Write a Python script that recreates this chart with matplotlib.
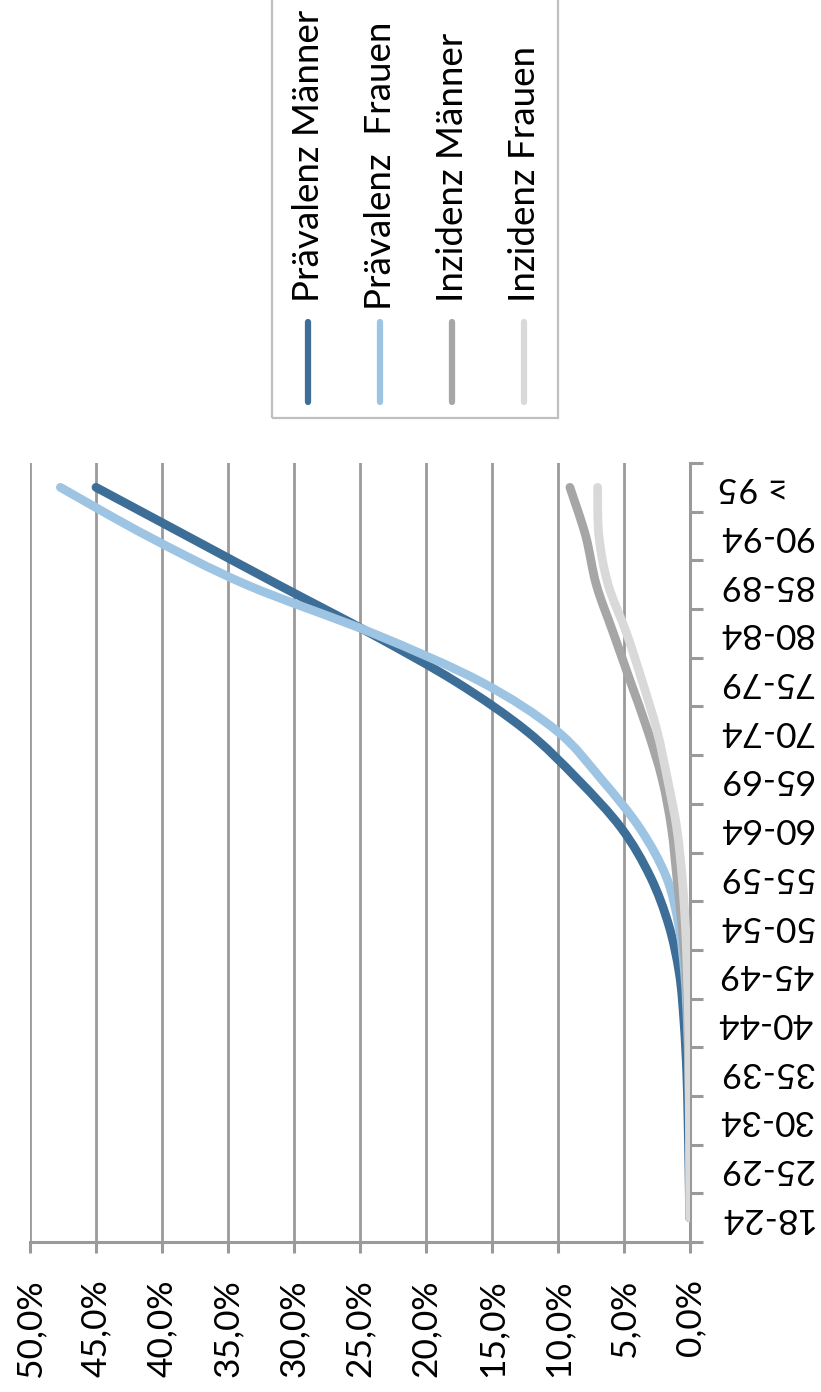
import matplotlib
matplotlib.use("Agg")
import matplotlib.pyplot as plt
from matplotlib.lines import Line2D
from matplotlib.patches import Rectangle, PathPatch
from matplotlib.path import Path
from matplotlib.ticker import FixedLocator

plt.rcParams['font.family'] = ['Lato', 'DejaVu Sans']

categories = ["18-24", "25-29", "30-34", "35-39", "40-44", "45-49", "50-54", "55-59",
              "60-64", "65-69", "70-74", "75-79", "80-84", "85-89", "90-94", "≥ 95"]
praevalenz_maenner = [0.03, 0.08, 0.15, 0.25, 0.45, 0.8, 1.6, 3.0, 5.2, 8.5, 12.4, 17.7, 24.2, 31.2, 38.1, 45.0]
praevalenz_frauen = [0.02, 0.03, 0.05, 0.1, 0.2, 0.4, 0.85, 1.8, 3.8, 6.7, 10.1, 15.8, 24.0, 33.6, 41.1, 47.7]
inzidenz_maenner = [0.01, 0.02, 0.04, 0.08, 0.15, 0.3, 0.6, 1.0, 1.4, 2.1, 3.2, 4.5, 5.8, 7.1, 7.9, 9.1]
inzidenz_frauen = [0.01, 0.02, 0.04, 0.06, 0.1, 0.2, 0.35, 0.6, 1.0, 1.7, 2.5, 3.6, 4.8, 6.2, 6.9, 7.0]
series_names = ["Prävalenz Männer", "Prävalenz  Frauen", "Inzidenz Männer", "Inzidenz Frauen"]
series_colors = ["#3d6e97", "#9dc4e2", "#a6a6a6", "#d9d9d9"]
value_ticks = [0, 5, 10, 15, 20, 25, 30, 35, 40, 45, 50]


def smooth_path(xv, yv):
    """Excel-style smoothed line: cubic Bezier through the data points."""
    pts = list(zip(xv, yv))
    n = len(pts)
    verts = [pts[0]]
    codes = [Path.MOVETO]
    for i in range(n - 1):
        p0 = pts[i - 1] if i > 0 else pts[i]
        p1 = pts[i]
        p2 = pts[i + 1]
        p3 = pts[i + 2] if i + 2 < n else pts[i + 1]
        c1 = (p1[0] + (p2[0] - p0[0]) / 6, p1[1] + (p2[1] - p0[1]) / 6)
        c2 = (p2[0] - (p3[0] - p1[0]) / 6, p2[1] - (p3[1] - p1[1]) / 6)
        verts += [c1, c2, p2]
        codes += [Path.CURVE4] * 3
    return Path(verts, codes)


W, H = 821, 1392
fig = plt.figure(figsize=(W / 100, H / 100), dpi=100)
ax = fig.add_axes([30 / W, 150 / H, 660 / W, 779 / H])

grid_c = "#9a9a9a"
pos = list(range(len(categories)))
for vals, col in zip([praevalenz_maenner, praevalenz_frauen, inzidenz_maenner, inzidenz_frauen], series_colors):
    ax.add_patch(PathPatch(smooth_path(vals, pos), fill=False, edgecolor=col, lw=6.3,
                           capstyle='round', joinstyle='round', zorder=3))

ax.set_xlim(50, 0)
ax.set_ylim(-0.5, len(categories) - 0.5)

ax.xaxis.set_major_locator(FixedLocator(value_ticks))
ax.set_xticklabels([f"{v:.1f}".replace('.', ',') + "%" for v in value_ticks], rotation=90, fontsize=25.5)
ax.grid(axis='x', color=grid_c, lw=2.0, zorder=1)
ax.tick_params(axis='x', direction='out', length=8, width=2.2, color=grid_c, pad=19)

ax.yaxis.tick_right()
ax.yaxis.set_major_locator(FixedLocator([i - 0.5 for i in range(len(categories) + 1)]))
ax.yaxis.set_minor_locator(FixedLocator(pos))
ax.set_yticklabels([], minor=False)
ax.set_yticklabels(categories, minor=True, rotation=180, fontsize=25.5)
ax.tick_params(axis='y', which='major', direction='out', length=9.5, width=2.2, color=grid_c)
ax.tick_params(axis='y', which='minor', length=0, pad=20)
for lab in ax.get_yticklabels(minor=True):
    lab.set_horizontalalignment('left')
    lab.set_verticalalignment('center')

for s in ['left', 'top']:
    ax.spines[s].set_visible(False)
for s in ['bottom', 'right']:
    ax.spines[s].set_color(grid_c)
    ax.spines[s].set_linewidth(2.2)

# legend (drawn rotated like the chart)
box = Rectangle((272 / W, (H - 418) / H), (558 - 272) / W, 430 / H, transform=fig.transFigure,
                fill=False, edgecolor="#bfbfbf", lw=1.6)
fig.add_artist(box)
xs = [308, 380, 452, 524]
text_starts = [302, 310, 302, 302]
for name, col, x, ys in zip(series_names, series_colors, xs, text_starts):
    fig.add_artist(Line2D([x / W, x / W], [(H - 402) / H, (H - 322) / H], transform=fig.transFigure,
                          color=col, lw=4.5, solid_capstyle='round'))
    fig.text(x / W, (H - ys) / H, name, rotation=90, ha='center', va='bottom', fontsize=26.5)

fig.savefig("out.png", dpi=100)
